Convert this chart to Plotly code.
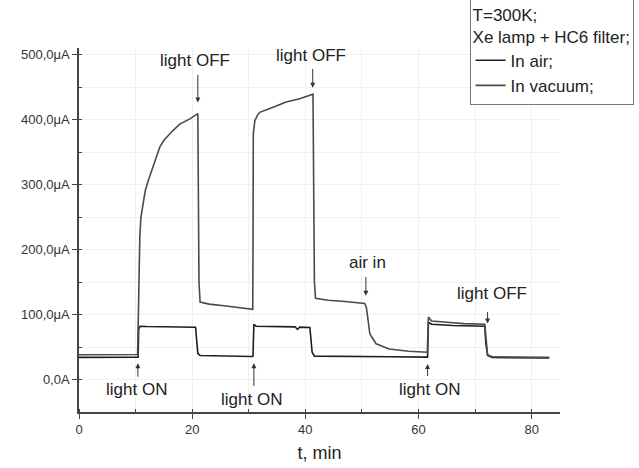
import plotly.graph_objects as go

# ---- data ----
t_air = [0, 5, 10.3, 10.45, 10.55, 10.8, 12, 15, 18, 20.6, 20.8, 21.0, 21.4, 25, 30.6, 30.75,
         30.9, 31.3, 35, 38.2, 38.6, 39.0, 40.8, 41.0, 41.2, 41.6, 45, 50, 55, 61.45, 61.6,
         61.75, 62.3, 66, 71.7, 71.9, 72.2, 73, 78, 83.1]
v_air = [34, 34, 34.5, 34.5, 78, 82, 81.5, 81, 81, 80.5, 60, 40, 37, 36, 35.5, 36,
         85, 82, 81.5, 81, 77, 80.5, 80, 60, 42, 36, 35.5, 35, 35, 34.5, 34.5,
         88, 85, 83, 82, 55, 37, 34, 33, 33]

t_vac = [0, 5, 10.35, 10.45, 10.6, 10.75, 10.95, 11.3, 11.7, 12.2, 12.7, 13.2, 13.7, 14.3,
         15.0, 15.8, 16.6, 17.8, 19.6, 21.0, 21.1, 21.2, 21.4, 23, 26, 29, 30.7, 30.75,
         30.8, 31.07, 31.5, 31.95, 33.0, 34.3, 36.6, 39, 41.35, 41.45, 41.6, 41.8, 44, 47,
         50.5, 50.8, 51.1, 51.4, 52.5, 54.8, 58.3, 61.55, 61.75, 62.3, 65, 68, 71.7, 71.9,
         72.2, 73, 78, 83.1]
v_vac = [38, 38, 38.5, 80, 170, 220, 250, 272, 290, 305, 318, 333, 345, 358,
         368, 376, 383, 393, 401, 409, 300, 150, 119, 116, 113, 110, 108, 200,
         378, 398, 406, 411, 415, 419, 427, 432, 439, 300, 150, 125, 122, 120,
         117, 110, 85, 70, 55, 47, 43.5, 42, 96, 90, 88, 86, 85, 60,
         38, 35, 34, 34]

y_tickvals = [0, 100, 200, 300, 400, 500]
y_ticktext = ["0,0A", "100,0μA", "200,0μA", "300,0μA", "400,0μA", "500,0μA"]
x_tickvals = [0, 20, 40, 60, 80]

# event labels: (text, text_t, text_v, arrow_t, tail_v, tip_v)
events = [
    ("light ON", 10.1, -16, 10.4, 2, 25),
    ("light ON", 30.5, -31, 30.9, -12, 25),
    ("light ON", 62.0, -16, 61.6, 3, 24),
    ("light OFF", 20.5, 491, 21.0, 471, 426),
    ("light OFF", 41.0, 498, 41.3, 480, 449),
    ("air in", 51.0, 180, 50.7, 160, 129),
    ("light OFF", 72.9, 132, 72.2, 106, 86),
]

FONT = "Liberation Sans, Arial, sans-serif"

fig = go.Figure()
fig.add_trace(go.Scatter(x=t_air, y=v_air, mode="lines", name="In air;",
                         line=dict(color="#1e1e1e", width=1.6)))
fig.add_trace(go.Scatter(x=t_vac, y=v_vac, mode="lines", name="In vacuum;",
                         line=dict(color="#4a4a4a", width=1.6)))

annotations = []
for txt, tx, tv, at, tail, tip in events:
    annotations.append(dict(x=tx, y=tv, xref="x", yref="y", text=txt, showarrow=False,
                            font=dict(size=17, color="#222", family=FONT)))
    annotations.append(dict(x=at, y=tip, ax=at, ay=tail, xref="x", yref="y",
                            axref="x", ayref="y", text="", showarrow=True,
                            arrowhead=2, arrowsize=1, arrowwidth=1, arrowcolor="#333"))

fig.update_layout(
    width=639, height=468,
    margin=dict(l=79, r=78.5, t=47.5, b=56.3, autoexpand=False),
    paper_bgcolor="white", plot_bgcolor="white",
    font=dict(family=FONT, color="#333"),
    annotations=annotations,
    showlegend=True,
    legend=dict(
        x=0.812, y=1.1386, xanchor="left", yanchor="top",
        bgcolor="white", bordercolor="#777", borderwidth=1,
        font=dict(size=17, color="#222", family=FONT),
        title=dict(text="T=300K;<br>Xe lamp + HC6 filter;", side="top",
                   font=dict(size=17, color="#222", family=FONT)),
        itemwidth=30, tracegroupgap=0,
    ),
    xaxis=dict(
        range=[0, 85], tickvals=x_tickvals, showgrid=False, zeroline=False,
        showline=True, linecolor="#444", linewidth=1.5,
        ticks="outside", ticklen=5, tickcolor="#444",
        tickfont=dict(size=13, color="#333"),
        title=dict(text="t, min", font=dict(size=18, color="#222"), standoff=10),
        minor=dict(dtick=10, tick0=0, showgrid=True, gridcolor="#f0f0f0",
                   ticks="inside", ticklen=3, tickcolor="#444"),
    ),
    yaxis=dict(
        range=[-50, 510], tickvals=y_tickvals, ticktext=y_ticktext,
        showgrid=False, zeroline=False,
        showline=True, linecolor="#444", linewidth=1.5,
        ticks="outside", ticklen=5, tickcolor="#444",
        tickfont=dict(size=13, color="#333"),
        minor=dict(dtick=50, tick0=0, showgrid=True, gridcolor="#f0f0f0",
                   ticks="inside", ticklen=3, tickcolor="#444"),
    ),
)

fig.write_html("out.html")
